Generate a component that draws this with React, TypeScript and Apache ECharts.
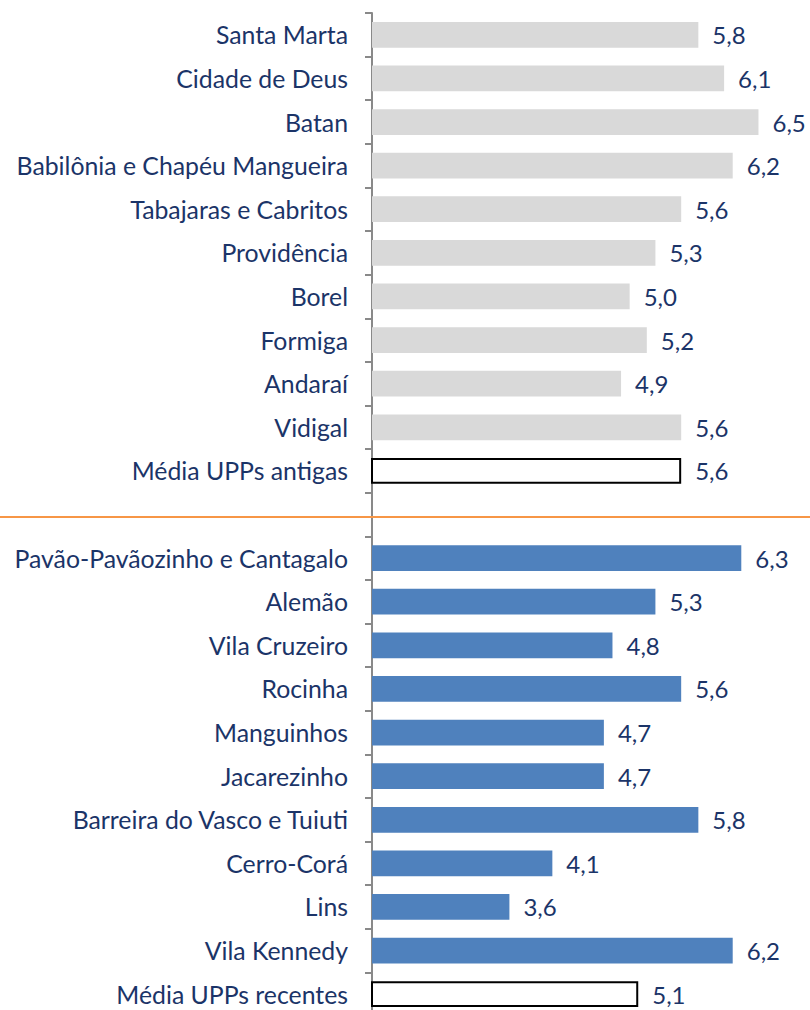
import React, { useEffect, useRef } from "react";
import * as echarts from "echarts";

const oldUPPs = [
  "Santa Marta",
  "Cidade de Deus",
  "Batan",
  "Babilônia e Chapéu Mangueira",
  "Tabajaras e Cabritos",
  "Providência",
  "Borel",
  "Formiga",
  "Andaraí",
  "Vidigal",
];
const oldValues = [5.8, 6.1, 6.5, 6.2, 5.6, 5.3, 5.0, 5.2, 4.9, 5.6];
const oldAverageLabel = "Média UPPs antigas";
const oldAverage = 5.6;

const newUPPs = [
  "Pavão-Pavãozinho e Cantagalo",
  "Alemão",
  "Vila Cruzeiro",
  "Rocinha",
  "Manguinhos",
  "Jacarezinho",
  "Barreira do Vasco e Tuiuti",
  "Cerro-Corá",
  "Lins",
  "Vila Kennedy",
];
const newValues = [6.3, 5.3, 4.8, 5.6, 4.7, 4.7, 5.8, 4.1, 3.6, 6.2];
const newAverageLabel = "Média UPPs recentes";
const newAverage = 5.1;

const TEXT = "#1B3468";
const FONT = "Lato";

export default function App() {
  const ref = useRef<HTMLDivElement>(null);

  useEffect(() => {
    if (!ref.current) return;
    const chart = echarts.init(ref.current, undefined, { renderer: "svg" });

    const categories = [
      ...oldUPPs,
      oldAverageLabel,
      "",
      ...newUPPs,
      newAverageLabel,
    ];
    const grayStyle = { color: "#D9D9D9" };
    const blueStyle = { color: "#4F81BD" };
    const avgStyle = { color: "#FFFFFF", borderColor: "#000000", borderWidth: 2 };
    const data: any[] = [
      ...oldValues.map((v) => ({ value: v, itemStyle: grayStyle })),
      { value: oldAverage, itemStyle: avgStyle },
      "-",
      ...newValues.map((v) => ({ value: v, itemStyle: blueStyle })),
      { value: newAverage, itemStyle: avgStyle },
    ];

    chart.setOption({
      animation: false,
      grid: {
        left: 372,
        right: 0,
        top: 13,
        height: 1003,
        containLabel: false,
        outerBoundsMode: "none",
      },
      xAxis: {
        type: "value",
        min: 2,
        max: 7.1,
        show: false,
      },
      yAxis: {
        type: "category",
        inverse: true,
        data: categories,
        axisLine: { show: true, lineStyle: { color: "#898989", width: 2 } },
        axisTick: { show: true, length: 7, lineStyle: { color: "#898989", width: 2 } },
        axisLabel: {
          margin: 24,
          color: TEXT,
          fontFamily: FONT,
          fontSize: 24.8,
          interval: 0,
        },
        splitLine: { show: false },
      },
      series: [
        {
          type: "bar",
          data,
          barWidth: "59%",
          label: {
            show: true,
            position: "right",
            distance: 14,
            color: TEXT,
            fontFamily: FONT,
            fontSize: 24,
            formatter: (p: any) =>
              typeof p.value === "number" ? p.value.toFixed(1).replace(".", ",") : "",
          },
        },
      ],
      graphic: [
        {
          type: "line",
          shape: { x1: 0, y1: 517, x2: 810, y2: 517 },
          style: { stroke: "#F79646", lineWidth: 2 },
          z: 100,
        },
      ],
    });

    return () => chart.dispose();
  }, []);

  return (
    <div
      ref={ref}
      style={{ position: "absolute", left: 0, top: 0, width: 810, height: 1010 }}
    />
  );
}
